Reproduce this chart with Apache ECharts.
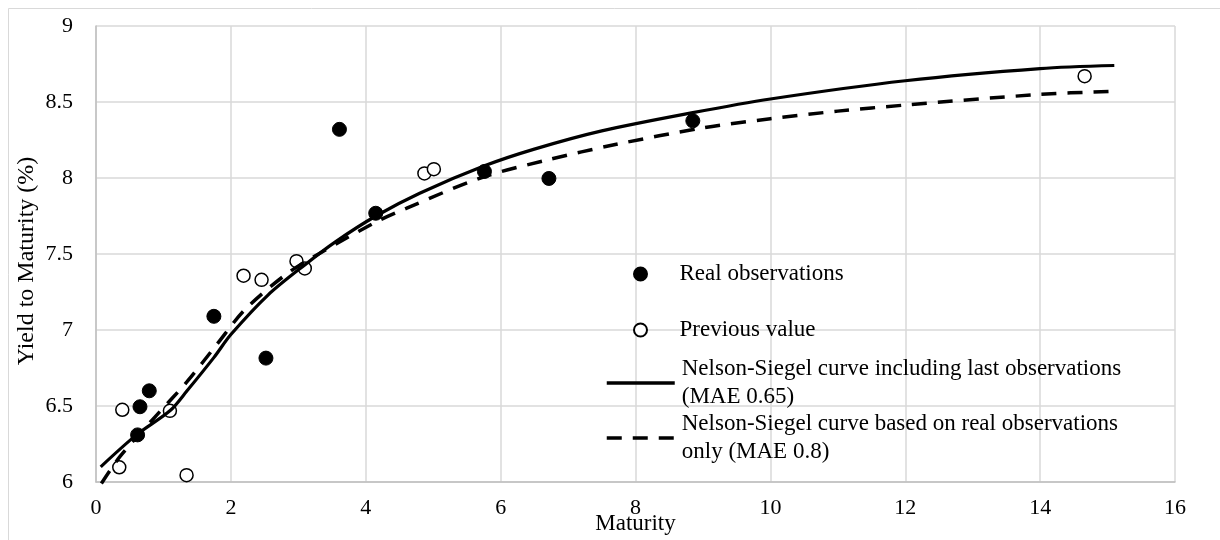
<!DOCTYPE html>
<html>
<head>
<meta charset="utf-8">
<script src="https://cdn.jsdelivr.net/npm/echarts@6/dist/echarts.min.js"></script>
<style>
  html, body { margin: 0; padding: 0; background: #ffffff; }
  #chart { width: 1220px; height: 540px; }
</style>
</head>
<body>
<div id="chart"></div>
<script>
// ---- data ----
const realX = [0.617, 0.652, 0.79, 1.748, 2.52, 3.61, 4.148, 5.76, 6.716, 8.85];
const realY = [6.31, 6.495, 6.60, 7.09, 6.815, 8.32, 7.768, 8.043, 7.997, 8.376];

const prevX = [0.345, 0.39, 1.096, 1.343, 2.188, 2.455, 2.973, 3.096, 4.87, 5.01, 14.66];
const prevY = [6.097, 6.475, 6.468, 6.045, 7.357, 7.33, 7.453, 7.405, 8.03, 8.058, 8.67];

const nsAllX = [0.07, 0.6, 1.1, 1.35, 1.75, 2.0, 2.55, 3.1, 3.55, 4.15, 4.8, 5.76, 6.5, 7.5, 8.85, 10.0, 12.0, 14.0, 15.1];
const nsAllY = [6.10, 6.31, 6.47, 6.60, 6.82, 6.97, 7.23, 7.43, 7.58, 7.75, 7.90, 8.08, 8.19, 8.31, 8.43, 8.52, 8.64, 8.72, 8.74];

const nsRealX = [0.08, 0.36, 0.9, 1.35, 1.8, 2.2, 2.8, 3.3, 4.15, 4.6, 5.7, 6.7, 7.7, 9.0, 10.0, 11.0, 12.0, 14.0, 15.05];
const nsRealY = [5.99, 6.17, 6.44, 6.66, 6.91, 7.13, 7.36, 7.50, 7.71, 7.80, 8.00, 8.12, 8.22, 8.33, 8.39, 8.44, 8.48, 8.55, 8.57];

const xTicks = { min: 0, max: 16, interval: 2 };
const yTicks = { min: 6, max: 9, interval: 0.5 };

const names = {
  real: 'Real observations',
  prev: 'Previous value',
  nsAll: 'Nelson-Siegel curve including last observations (MAE 0.65)',
  nsReal: 'Nelson-Siegel curve based on real observations only (MAE 0.8)'
};
const legendText = {};
legendText[names.real] = 'Real observations';
legendText[names.prev] = 'Previous value';
legendText[names.nsAll] = 'Nelson-Siegel curve including last observations\n(MAE 0.65)';
legendText[names.nsReal] = 'Nelson-Siegel curve based on real observations\nonly (MAE 0.8)';

const zip = (xs, ys) => xs.map((x, i) => [x, ys[i]]);

const FONT = "'Liberation Serif', 'Times New Roman', serif";

function legendAt(name, left, top, twoLine) {
  const lg = {
    data: [name],
    left: left,
    top: top,
    orient: 'vertical',
    itemWidth: 68,
    itemHeight: 13,
    padding: 0,
    selectedMode: false,
    formatter: (n) => legendText[n],
    lineStyle: { width: 3.5 },
    textStyle: {
      fontFamily: FONT,
      fontSize: 23,
      color: '#000',
      lineHeight: 28,
      padding: twoLine ? [28, 0, 0, 2] : [0, 0, 0, 0]
    }
  };
  if (twoLine) {
    lg.itemStyle = { color: 'rgba(0,0,0,0)', borderColor: 'rgba(0,0,0,0)', borderWidth: 0 };
  }
  return lg;
}

const chart = echarts.init(document.getElementById('chart'), null, { renderer: 'canvas' });
chart.setOption({
  backgroundColor: '#ffffff',
  animation: false,
  graphic: [{
    type: 'rect',
    shape: { x: 8.5, y: 8.5, width: 1240, height: 560 },
    style: { fill: 'none', stroke: '#d9d9d9', lineWidth: 1 },
    silent: true
  }],
  grid: { left: 96, right: 45, top: 26, bottom: 58, containLabel: false, outerBoundsMode: 'none' },
  xAxis: {
    type: 'value',
    min: xTicks.min, max: xTicks.max, interval: xTicks.interval,
    name: 'Maturity',
    nameLocation: 'middle',
    nameGap: 30,
    nameMoveOverlap: false,
    nameTextStyle: { fontFamily: FONT, fontSize: 23, color: '#000' },
    axisLine: { show: true, lineStyle: { color: '#bfbfbf', width: 1.5 } },
    axisTick: { show: false },
    axisLabel: { fontFamily: FONT, fontSize: 22, color: '#000', margin: 15 },
    splitLine: { show: true, lineStyle: { color: '#d9d9d9', width: 1.5 } }
  },
  yAxis: {
    type: 'value',
    min: yTicks.min, max: yTicks.max, interval: yTicks.interval,
    name: 'Yield to Maturity (%)',
    nameLocation: 'middle',
    nameGap: 57,
    nameMoveOverlap: false,
    nameTextStyle: { fontFamily: FONT, fontSize: 24, color: '#000', padding: [0, 14, 0, 0] },
    axisLine: { show: true, lineStyle: { color: '#bfbfbf', width: 1.5 } },
    axisTick: { show: false },
    axisLabel: { fontFamily: FONT, fontSize: 22, color: '#000', margin: 23 },
    splitLine: { show: true, lineStyle: { color: '#d9d9d9', width: 1.5 } }
  },
  legend: [
    legendAt(names.real, 633, 260, false),
    legendAt(names.prev, 633, 316, false),
    legendAt(names.nsAll, 605, 376 - 35, true),
    legendAt(names.nsReal, 605, 431 - 35, true)
  ],
  series: [
    {
      name: names.real,
      type: 'scatter',
      data: zip(realX, realY),
      symbol: 'circle',
      symbolSize: 14,
      itemStyle: { color: '#000', borderColor: '#000', borderWidth: 1, opacity: 1 },
      z: 3
    },
    {
      name: names.prev,
      type: 'scatter',
      data: zip(prevX, prevY),
      symbol: 'circle',
      symbolSize: 13,
      itemStyle: { color: '#ffffff', borderColor: '#000', borderWidth: 1.5, opacity: 1 },
      z: 3
    },
    {
      name: names.nsAll,
      type: 'line',
      data: zip(nsAllX, nsAllY),
      smooth: 0.3,
      symbol: 'none',
      clip: false,
      lineStyle: { color: '#000', width: 3.2, type: 'solid' },
      itemStyle: { color: '#000' },
      z: 4
    },
    {
      name: names.nsReal,
      type: 'line',
      data: zip(nsRealX, nsRealY),
      smooth: 0.3,
      symbol: 'none',
      clip: false,
      lineStyle: { color: '#000', width: 3.5, type: [15, 11] },
      itemStyle: { color: '#000' },
      z: 4
    }
  ]
});
</script>
</body>
</html>
